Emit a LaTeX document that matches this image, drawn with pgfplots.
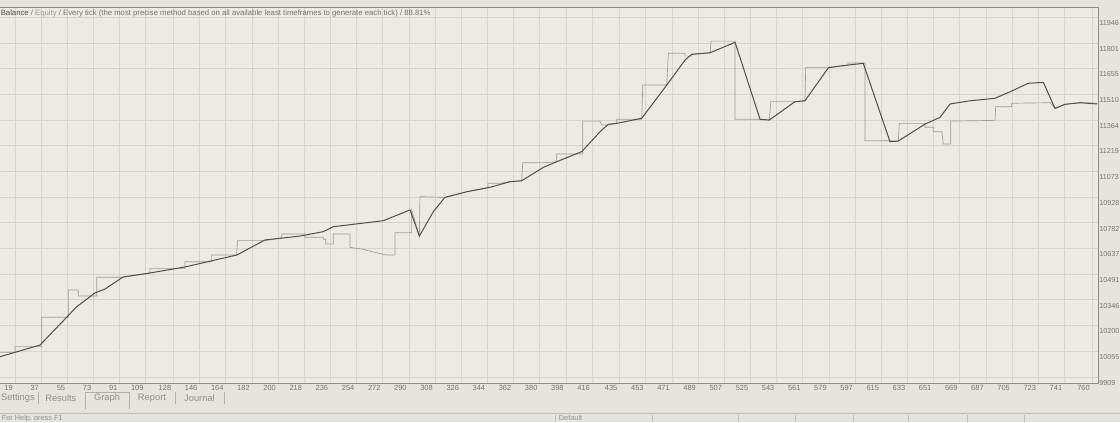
\documentclass[border=0pt]{standalone}
\usepackage{fontspec}
\setmainfont{Liberation Sans}
\usepackage{pgfplots}
\pgfplotsset{compat=1.18}
\definecolor{bgc}{HTML}{E6E4DE}
\definecolor{plotbg}{HTML}{ECEAE5}
\definecolor{gridc}{HTML}{D6D4CE}
\definecolor{framec}{HTML}{8C8C8A}
\definecolor{balc}{HTML}{4E4E4E}
\definecolor{eqc}{HTML}{9C9C9A}
\definecolor{txtc}{HTML}{747472}
\definecolor{tabc}{HTML}{8E8E8C}
\begin{document}
\begin{tikzpicture}
\fill[bgc] (0,0) rectangle (840pt,-316.5pt);
\begin{axis}[
  at={(-7.5pt,-5.25pt)}, anchor=north west,
  scale only axis, width=831pt, height=282pt,
  xmin=1.8, xmax=764.1, ymin=9875, ymax=12004,
  axis background/.style={fill=plotbg},
  grid=major, major grid style={gridc, line width=0.5pt},
  axis line style={framec, line width=0.5pt},
  tick style={draw=none},
  xtick={19,37,55,73,91,109,128,146,164,182,200,218,236,254,272,290,308,326,344,362,380,398,416,435,453,471,489,507,525,543,561,579,597,615,633,651,669,687,705,723,741,760},
  xticklabels={19,37,55,73,91,109,128,146,164,182,200,218,236,254,272,290,308,326,344,362,380,398,416,435,453,471,489,507,525,543,561,579,597,615,633,651,669,687,705,723,741,760},
  ytick={9909,10055,10200,10346,10491,10637,10782,10928,11073,11219,11364,11510,11655,11801,11946},
  yticklabels={9909,10055,10200,10346,10491,10637,10782,10928,11073,11219,11364,11510,11655,11801,11946},
  yticklabel pos=right,
  x tick label style={anchor=north east, inner sep=0pt, xshift=-1.5pt, yshift=-1.4pt, font=\fontsize{5.6}{6}\selectfont, text=txtc},
  y tick label style={anchor=north west, inner sep=0pt, xshift=0.9pt, yshift=-2.2pt, font=\fontsize{5.4}{6}\selectfont, text=txtc},
]
% Equity (lighter, stepped)
\addplot[eqc, line width=0.5pt] coordinates {
(0,10047) (19.0,10047) (19.0,10081) (37.4,10081) (37.4,10247) (55.7,10247) (55.7,10402) (62.5,10402) (62.5,10368) (75.2,10368) (75.2,10474) (93.3,10474) (111.9,10498) (111.9,10524) (136.0,10524) (136.0,10562) (154.3,10562) (154.3,10600) (171.5,10600) (172.1,10681) (191.0,10681) (202.5,10696) (202.5,10719) (218.5,10719) (218.5,10700) (231.1,10700) (231.1,10689) (232.8,10689) (232.8,10662) (238.0,10662) (238.0,10719) (249.5,10719) (249.5,10643) (258.6,10632) (262.1,10624) (274.2,10600) (280.4,10600) (280.4,10726) (291.9,10726) (291.9,10855) (297.2,10707) (297.6,10930) (314.8,10926) (329.8,10958) (344.4,10981) (344.4,11006) (352.7,11006) (359.6,11015) (367.6,11020) (368.3,11122) (382.5,11122) (391.7,11128) (391.7,11172) (409.6,11172) (409.6,11358) (421.5,11358) (422.7,11336) (427.2,11336) (433.0,11345) (433.0,11368) (450.2,11368) (450.9,11562) (467.4,11562) (468.5,11742) (480.0,11742) (480.0,11726) (484.6,11726) (484.6,11736) (497.2,11745) (497.9,11811) (514.4,11811) (514.4,11368) (531.6,11368) (538.0,11364) (539.0,11468) (555.6,11468) (562.5,11473) (563.0,11662) (578.6,11662) (592.1,11673) (592.1,11687) (603.8,11687) (603.8,11247) (621.0,11247) (626.7,11245) (627.4,11345) (645.1,11345) (645.1,11323) (650.8,11323) (650.8,11298) (656.6,11298) (657.7,11228) (662.8,11228) (662.8,11358) (693.2,11362) (693.7,11439) (704.7,11439) (704.7,11459) (731.1,11462) (734.5,11430) (741.4,11453) (751.7,11462) (763.9,11459)
};
% Balance (darker)
\addplot[balc, line width=0.75pt] coordinates {
(0,10003) (8.7,10024) (36.2,10090) (61.5,10307) (74.0,10385) (80.9,10407) (93.3,10475) (111.9,10498) (136.0,10532) (171.7,10600) (191.0,10685) (215.1,10707) (231.1,10732) (238.0,10760) (272.4,10794) (290.8,10855) (297.2,10707) (306.8,10845) (314.8,10926) (329.8,10958) (345.8,10983) (359.6,11015) (367.6,11020) (382.5,11096) (391.7,11128) (408.9,11185) (421.5,11298) (427.2,11340) (433.0,11345) (450.2,11374) (467.4,11562) (480.0,11704) (484.6,11736) (497.2,11745) (514.4,11804) (531.6,11368) (538.0,11364) (555.6,11468) (562.5,11473) (578.6,11660) (586.6,11670) (602.6,11685) (621.0,11241) (626.7,11245) (645.1,11341) (655.4,11379) (662.3,11455) (676.0,11473) (693.2,11487) (703.6,11524) (716.1,11572) (726.5,11577) (734.5,11430) (741.4,11453) (751.7,11462) (763.5,11455)
};
\end{axis}
% title
\node[anchor=west, inner sep=0pt, font=\fontsize{5.8}{6.5}\selectfont, text=txtc] at (0.4pt,-10.3pt)
 {\textcolor{black!70}{Balance} / \textcolor{eqc}{Equity} / Every tick (the most precise method based on all available least timeframes to generate each tick) / 88.81\%};
% tabs
\begin{scope}[font=\fontsize{7}{8}\selectfont, text=tabc]
\node[anchor=west, inner sep=0pt] at (0.6pt,-298.5pt) {Settings};
\node[anchor=west, inner sep=0pt] at (33.75pt,-298.5pt) {Results};
\node[inner sep=0pt] at (80.25pt,-298.5pt) {Graph};
\node[inner sep=0pt] at (114pt,-298.5pt) {Report};
\node[inner sep=0pt] at (149.6pt,-298.5pt) {Journal};
\end{scope}
\draw[tabc!70, line width=0.5pt] (64.3pt,-306.75pt) -- (64.3pt,-294pt) -- (96.75pt,-294pt) -- (96.75pt,-306.75pt);
\foreach \xx in {28.5,131.25,168} \draw[tabc!70, line width=0.5pt] (\xx pt,-294pt) -- (\xx pt,-303pt);
\draw[tabc!60, line width=0.5pt] (0pt,-309.75pt) -- (840pt,-309.75pt);
\foreach \xx in {416.6,489.6,553.5,596.3,640.3,681,725.3,768.5} \draw[tabc!60, line width=0.5pt] (\xx pt,-311.5pt) -- (\xx pt,-316.5pt);
\begin{scope}[font=\fontsize{5.5}{6}\selectfont, text=tabc]
\node[anchor=west, inner sep=0pt] at (1.2pt,-313.6pt) {For Help, press F1};
\node[anchor=west, inner sep=0pt] at (419pt,-313.6pt) {Default};
\end{scope}
\pgfresetboundingbox
\path (0,0) rectangle (840pt,-316.5pt);
\end{tikzpicture}
\end{document}
